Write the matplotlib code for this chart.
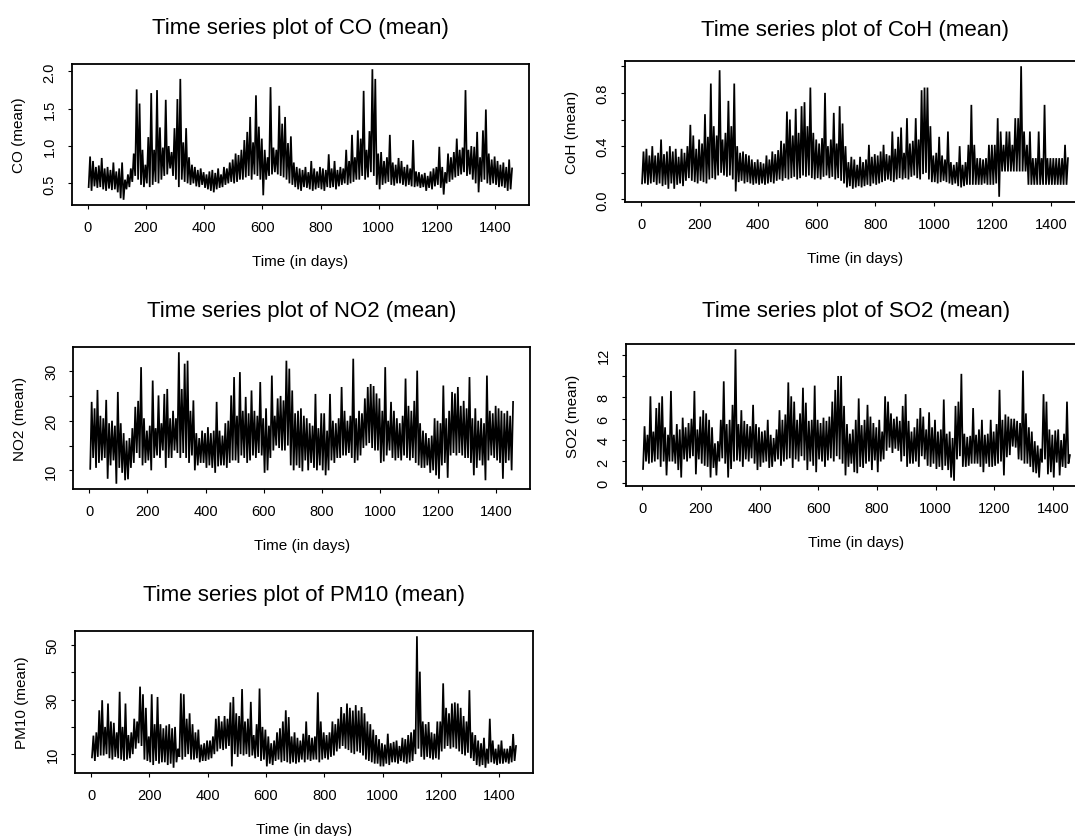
import numpy as np
import matplotlib
matplotlib.use("Agg")
import matplotlib.pyplot as plt

plt.rcParams['font.family'] = ['Liberation Sans', 'DejaVu Sans']

# Each series is given as the low / high envelope of consecutive 10-day windows
BIN_DAYS = 10

co_hi = [0.86, 0.80, 0.72, 0.74, 0.84, 0.70, 0.72, 0.68, 0.78, 0.66,
         0.70, 0.78, 0.55, 0.62, 0.70, 0.90, 1.76, 1.57, 0.95, 0.75,
         1.12, 1.71, 0.95, 1.75, 1.25, 0.98, 1.62, 1.00, 0.92, 1.24,
         1.63, 1.90, 1.05, 1.24, 0.85, 0.75, 0.72, 0.68, 0.70, 0.65,
         0.62, 0.66, 0.68, 0.64, 0.70, 0.62, 0.72, 0.70, 0.78, 0.82,
         0.90, 0.88, 0.95, 1.08, 1.19, 1.39, 1.05, 1.68, 1.26, 1.10,
         0.95, 0.85, 1.79, 0.98, 0.95, 1.54, 1.30, 1.39, 1.04, 1.13,
         0.78, 0.72, 0.70, 0.68, 0.72, 0.65, 0.80, 0.70, 0.66, 0.72,
         0.70, 0.68, 0.89, 0.70, 0.80, 0.68, 0.72, 0.70, 0.95, 0.80,
         1.15, 0.85, 1.21, 1.10, 1.74, 0.95, 1.20, 2.03, 1.90, 0.90,
         0.92, 0.80, 0.85, 1.15, 0.78, 0.75, 0.84, 0.80, 0.72, 0.75,
         0.70, 1.08, 0.66, 0.65, 0.62, 0.64, 0.60, 0.66, 0.70, 0.72,
         0.99, 0.72, 0.65, 0.90, 0.85, 0.92, 1.10, 0.95, 0.98, 1.75,
         0.95, 1.00, 0.99, 1.19, 0.85, 1.21, 1.49, 0.90, 0.82, 0.86,
         0.80, 0.75, 0.78, 0.72, 0.82, 0.70]
co_lo = [0.45, 0.40, 0.46, 0.44, 0.45, 0.42, 0.40, 0.43, 0.41, 0.42,
         0.38, 0.30, 0.28, 0.42, 0.45, 0.52, 0.60, 0.55, 0.48, 0.45,
         0.50, 0.45, 0.48, 0.52, 0.50, 0.55, 0.60, 0.62, 0.70, 0.60,
         0.55, 0.45, 0.55, 0.52, 0.50, 0.48, 0.50, 0.46, 0.45, 0.48,
         0.44, 0.42, 0.40, 0.38, 0.42, 0.44, 0.45, 0.48, 0.50, 0.52,
         0.50, 0.52, 0.55, 0.55, 0.58, 0.60, 0.55, 0.62, 0.60, 0.55,
         0.34, 0.55, 0.60, 0.62, 0.65, 0.62, 0.60, 0.58, 0.55, 0.50,
         0.48, 0.45, 0.42, 0.40, 0.45, 0.44, 0.42, 0.40, 0.42, 0.44,
         0.42, 0.40, 0.45, 0.44, 0.45, 0.42, 0.46, 0.48, 0.50, 0.48,
         0.50, 0.52, 0.55, 0.55, 0.60, 0.55, 0.58, 0.65, 0.60, 0.48,
         0.42, 0.48, 0.50, 0.52, 0.48, 0.47, 0.50, 0.50, 0.48, 0.46,
         0.48, 0.46, 0.45, 0.46, 0.44, 0.45, 0.40, 0.44, 0.42, 0.46,
         0.48, 0.44, 0.35, 0.50, 0.52, 0.55, 0.58, 0.60, 0.62, 0.65,
         0.60, 0.62, 0.55, 0.50, 0.38, 0.52, 0.55, 0.50, 0.48, 0.50,
         0.48, 0.45, 0.46, 0.44, 0.40, 0.42]

coh_hi = [0.36, 0.38, 0.33, 0.40, 0.33, 0.35, 0.45, 0.34, 0.36, 0.40,
          0.36, 0.38, 0.32, 0.38, 0.35, 0.40, 0.56, 0.48, 0.38, 0.45,
          0.42, 0.64, 0.47, 0.87, 0.55, 0.48, 0.97, 0.45, 0.50, 0.74,
          0.55, 0.87, 0.40, 0.35, 0.36, 0.34, 0.33, 0.30, 0.28, 0.30,
          0.28, 0.27, 0.33, 0.30, 0.36, 0.34, 0.37, 0.44, 0.42, 0.66,
          0.60, 0.48, 0.68, 0.50, 0.70, 0.73, 0.55, 0.84, 0.50, 0.45,
          0.42, 0.46, 0.80, 0.40, 0.45, 0.65, 0.42, 0.70, 0.57, 0.40,
          0.28, 0.32, 0.30, 0.26, 0.32, 0.28, 0.30, 0.41, 0.32, 0.34,
          0.33, 0.36, 0.41, 0.34, 0.33, 0.51, 0.38, 0.47, 0.54, 0.35,
          0.61, 0.42, 0.44, 0.61, 0.45, 0.82, 0.84, 0.84, 0.55, 0.33,
          0.35, 0.47, 0.33, 0.30, 0.51, 0.28, 0.26, 0.28, 0.40, 0.26,
          0.28, 0.41, 0.71, 0.41, 0.31, 0.31, 0.30, 0.31, 0.41, 0.41,
          0.41, 0.61, 0.51, 0.41, 0.51, 0.51, 0.41, 0.61, 0.61, 1.00,
          0.51, 0.41, 0.51, 0.31, 0.31, 0.51, 0.31, 0.71, 0.31, 0.31,
          0.31, 0.31, 0.31, 0.31, 0.41, 0.31]
coh_lo = [0.12, 0.12, 0.11, 0.12, 0.13, 0.11, 0.12, 0.10, 0.11, 0.08,
          0.12, 0.08, 0.11, 0.12, 0.10, 0.14, 0.16, 0.14, 0.13, 0.12,
          0.14, 0.13, 0.12, 0.15, 0.16, 0.15, 0.18, 0.20, 0.18, 0.17,
          0.18, 0.15, 0.06, 0.13, 0.14, 0.12, 0.13, 0.12, 0.11, 0.12,
          0.11, 0.12, 0.11, 0.12, 0.13, 0.12, 0.14, 0.15, 0.14, 0.16,
          0.15, 0.16, 0.17, 0.15, 0.16, 0.18, 0.17, 0.18, 0.16, 0.15,
          0.16, 0.15, 0.17, 0.18, 0.16, 0.17, 0.15, 0.16, 0.14, 0.12,
          0.09, 0.10, 0.08, 0.09, 0.10, 0.09, 0.10, 0.11, 0.10, 0.12,
          0.11, 0.12, 0.13, 0.14, 0.15, 0.14, 0.13, 0.15, 0.16, 0.15,
          0.16, 0.15, 0.17, 0.18, 0.16, 0.15, 0.19, 0.20, 0.15, 0.13,
          0.13, 0.12, 0.13, 0.14, 0.13, 0.12, 0.11, 0.12, 0.10, 0.09,
          0.10, 0.11, 0.11, 0.11, 0.11, 0.11, 0.11, 0.12, 0.11, 0.11,
          0.11, 0.12, 0.02, 0.21, 0.21, 0.21, 0.21, 0.21, 0.21, 0.21,
          0.21, 0.21, 0.11, 0.11, 0.11, 0.11, 0.11, 0.11, 0.11, 0.11,
          0.11, 0.11, 0.11, 0.11, 0.11, 0.11]

no2_hi = [23.8, 22.5, 26.2, 21.0, 20.5, 24.2, 19.5, 20.0, 19.0, 25.8,
          19.5, 17.5, 16.0, 16.5, 18.5, 22.8, 24.0, 30.8, 20.5, 18.0,
          19.0, 28.1, 18.5, 25.1, 19.5, 25.4, 26.4, 20.5, 22.0, 20.5,
          33.8, 26.4, 31.5, 32.1, 22.0, 24.1, 17.5, 16.5, 18.0, 17.5,
          18.7, 17.5, 18.0, 23.8, 18.0, 17.0, 19.5, 20.0, 25.1, 28.8,
          21.0, 29.8, 22.0, 24.8, 21.5, 26.1, 22.0, 21.0, 27.8, 20.5,
          22.5, 19.0, 29.1, 21.0, 24.5, 25.0, 24.1, 32.1, 30.5, 26.1,
          21.5, 22.0, 22.5, 21.0, 20.5, 19.5, 19.0, 25.4, 18.5, 21.5,
          21.5, 18.0, 25.4, 20.0, 19.5, 20.5, 26.8, 22.0, 20.0, 21.0,
          32.5, 20.5, 22.0, 21.5, 24.5, 26.8, 27.4, 27.0, 25.5, 24.5,
          22.0, 30.8, 20.0, 23.8, 22.0, 20.5, 19.5, 21.0, 28.5, 23.0,
          22.0, 24.0, 30.1, 19.5, 18.0, 17.5, 16.5, 17.0, 20.5, 20.0,
          19.5, 27.1, 20.5, 22.0, 25.8, 25.5, 26.8, 23.0, 24.0, 22.5,
          28.8, 20.5, 22.5, 20.0, 20.5, 19.5, 29.1, 22.0, 21.5, 23.0,
          22.5, 22.0, 21.5, 22.0, 21.0, 23.8]
no2_lo = [10.3, 12.5, 10.5, 11.5, 12.0, 12.5, 8.3, 11.0, 12.0, 7.3,
          10.5, 9.5, 8.0, 8.2, 10.5, 11.5, 13.5, 12.5, 11.0, 11.5,
          12.0, 10.0, 12.5, 13.0, 12.5, 14.0, 10.5, 12.5, 12.5, 14.0,
          13.5, 12.5, 13.5, 12.5, 11.5, 13.0, 10.0, 11.0, 11.5, 11.5,
          10.5, 11.0, 10.5, 9.5, 10.8, 11.0, 11.0, 10.5, 11.5, 12.0,
          12.0, 11.5, 13.0, 12.5, 11.5, 12.0, 13.0, 12.5, 13.5, 13.0,
          9.5, 10.0, 12.5, 14.0, 15.0, 14.5, 14.0, 14.0, 15.0, 11.0,
          10.0, 11.0, 10.5, 9.8, 12.0, 10.0, 11.5, 10.5, 10.0, 11.0,
          10.0, 9.0, 10.0, 12.0, 11.5, 12.5, 12.5, 13.0, 13.0, 13.5,
          12.5, 11.5, 12.0, 13.0, 14.5, 15.0, 15.5, 14.5, 14.0, 14.0,
          11.5, 11.8, 13.0, 14.0, 12.5, 12.0, 12.5, 12.0, 13.0, 12.5,
          12.0, 12.5, 11.5, 11.0, 10.5, 10.5, 11.0, 9.5, 10.0, 9.0,
          8.3, 11.0, 11.5, 8.5, 13.0, 13.5, 13.0, 13.5, 13.0, 12.5,
          12.5, 11.5, 9.0, 10.5, 12.0, 11.0, 8.0, 12.0, 13.0, 12.5,
          12.0, 11.5, 8.3, 11.5, 12.0, 10.0]

so2_hi = [5.3, 4.5, 8.1, 4.8, 7.0, 7.5, 8.1, 5.2, 4.5, 8.6,
          4.5, 5.5, 5.0, 6.1, 5.2, 5.6, 6.0, 8.6, 5.0, 6.2,
          6.8, 6.5, 5.9, 5.2, 3.7, 3.9, 5.9, 9.5, 5.5, 5.9,
          7.3, 12.5, 5.5, 6.8, 5.8, 5.5, 5.3, 7.3, 5.5, 5.2,
          4.8, 4.9, 5.9, 4.5, 4.2, 5.0, 6.8, 5.9, 6.4, 9.4,
          8.1, 7.6, 5.9, 6.5, 8.9, 7.5, 5.8, 5.9, 9.1, 5.9,
          5.6, 6.1, 5.8, 6.2, 7.6, 8.7, 10.0, 10.0, 7.2, 5.5,
          4.6, 5.0, 5.9, 7.9, 5.4, 5.9, 7.3, 6.2, 5.6, 5.2,
          5.9, 4.8, 8.1, 7.6, 6.5, 6.0, 6.2, 5.8, 7.2, 8.3,
          5.8, 4.8, 5.2, 6.0, 7.0, 6.2, 5.0, 6.6, 5.2, 5.9,
          4.8, 5.0, 7.8, 4.6, 4.8, 4.2, 7.2, 7.6, 10.2, 4.6,
          4.3, 4.4, 7.0, 4.5, 5.0, 5.9, 4.5, 4.6, 5.9, 4.8,
          5.5, 8.7, 5.9, 6.4, 6.2, 6.0, 6.0, 5.8, 5.6, 10.5,
          6.5, 5.2, 4.8, 3.9, 3.5, 3.2, 8.3, 7.6, 5.0, 4.5,
          4.9, 5.0, 4.0, 4.6, 7.6, 2.6]
so2_lo = [1.3, 2.0, 1.8, 1.9, 2.0, 2.2, 1.5, 2.0, 0.7, 2.0,
          2.0, 1.8, 1.2, 0.5, 2.2, 2.0, 2.3, 2.5, 0.8, 2.2,
          1.8, 1.6, 1.5, 0.5, 1.4, 0.7, 2.0, 2.3, 1.8, 0.5,
          1.3, 2.0, 2.1, 2.0, 1.5, 2.2, 2.0, 2.3, 1.8, 1.2,
          1.5, 1.9, 2.0, 1.4, 1.5, 2.0, 2.2, 1.6, 2.0, 2.2,
          2.3, 1.4, 2.2, 2.0, 2.5, 2.1, 1.2, 2.0, 1.6, 1.0,
          2.2, 2.0, 1.5, 2.1, 2.3, 2.0, 2.5, 2.2, 1.8, 0.7,
          1.5, 1.8, 1.0, 0.9, 1.5, 1.4, 1.8, 2.0, 1.2, 2.1,
          1.0, 2.0, 2.2, 3.0, 3.3, 2.8, 3.2, 3.0, 2.0, 2.5,
          1.5, 1.8, 1.8, 2.0, 1.5, 2.5, 2.2, 1.6, 1.5, 1.8,
          1.3, 1.5, 1.2, 1.6, 1.2, 0.5, 0.2, 2.2, 2.5, 1.5,
          1.5, 1.6, 1.8, 1.8, 1.8, 1.5, 1.0, 1.8, 1.5, 1.5,
          1.6, 1.8, 2.0, 0.7, 2.4, 2.6, 3.4, 3.3, 2.2, 2.1,
          1.8, 1.8, 1.5, 1.0, 0.9, 0.5, 1.9, 2.2, 0.8, 1.0,
          0.5, 1.9, 0.7, 1.5, 1.4, 1.8]

pm10_hi = [16.8, 18.0, 26.1, 29.8, 20.0, 28.6, 22.0, 21.5, 18.0, 32.9,
           20.0, 28.6, 17.0, 18.0, 23.0, 22.0, 34.8, 32.0, 27.0, 16.5,
           32.0, 21.0, 31.0, 21.0, 19.5, 20.5, 21.0, 19.5, 20.0, 12.0,
           32.3, 32.0, 23.0, 25.0, 21.0, 18.0, 19.0, 13.5, 14.0, 15.0,
           15.0, 16.5, 23.0, 24.0, 22.0, 24.0, 23.0, 29.0, 31.0, 25.0,
           24.0, 33.9, 22.0, 23.0, 29.2, 17.0, 21.0, 34.1, 20.0, 19.0,
           16.5, 14.0, 15.0, 18.0, 19.5, 22.0, 26.1, 23.6, 16.5, 18.0,
           16.0, 15.0, 17.5, 22.0, 17.0, 16.0, 16.5, 32.7, 22.0, 18.0,
           17.0, 18.0, 22.0, 21.0, 23.0, 27.3, 25.0, 28.6, 27.0, 26.0,
           28.0, 26.0, 27.3, 25.0, 22.0, 21.0, 19.0, 17.0, 15.5, 14.0,
           13.5, 17.5, 14.0, 14.5, 15.0, 13.0, 16.0, 15.5, 17.0, 18.0,
           19.0, 53.3, 40.3, 22.0, 21.0, 21.8, 18.0, 17.5, 22.0, 22.0,
           36.0, 27.0, 25.0, 28.6, 29.0, 28.6, 27.0, 24.0, 22.0, 33.5,
           18.0, 17.0, 15.0, 14.0, 16.0, 12.0, 23.0, 15.0, 12.0, 13.5,
           15.0, 12.0, 12.0, 13.0, 17.4, 13.0]
pm10_lo = [8.8, 7.5, 9.0, 9.5, 9.5, 10.0, 8.5, 8.0, 9.0, 8.5,
           8.0, 7.5, 8.0, 8.5, 10.0, 12.0, 14.0, 13.0, 8.0, 7.5,
           7.0, 6.0, 7.5, 6.5, 7.0, 7.0, 6.0, 6.5, 5.0, 7.0,
           9.0, 8.0, 9.0, 10.0, 8.0, 8.0, 8.5, 7.0, 7.5, 7.5,
           8.0, 8.5, 10.0, 11.0, 12.0, 11.5, 12.0, 13.0, 5.5, 10.0,
           9.0, 10.0, 9.5, 10.0, 9.0, 9.5, 8.5, 9.0, 7.5, 8.0,
           5.5, 6.5, 6.0, 7.5, 8.0, 7.0, 7.5, 7.0, 6.5, 7.0,
           6.5, 7.0, 8.0, 7.0, 8.0, 7.5, 8.0, 8.0, 7.0, 8.0,
           8.5, 8.0, 9.0, 9.5, 11.0, 12.0, 13.0, 12.0, 11.5, 10.5,
           10.0, 11.0, 10.5, 9.5, 8.0, 7.5, 7.0, 6.5, 6.5, 5.5,
           5.5, 6.5, 6.0, 7.0, 7.0, 6.5, 7.5, 7.0, 6.5, 7.0,
           7.5, 10.0, 12.0, 9.0, 8.0, 9.0, 8.5, 8.0, 8.5, 8.0,
           11.0, 12.0, 13.0, 12.0, 12.5, 12.0, 11.0, 10.0, 9.5, 10.5,
           8.5, 7.5, 6.0, 5.5, 6.0, 5.0, 6.5, 7.0, 6.5, 6.0,
           6.5, 6.5, 7.0, 6.5, 7.0, 7.5]

x_ticks = [0, 200, 400, 600, 800, 1000, 1200, 1400]

co_yticks = [0.5, 1.0, 1.5, 2.0]
co_ylabels = ["0.5", "1.0", "1.5", "2.0"]
coh_yticks = [0.0, 0.2, 0.4, 0.6, 0.8, 1.0]
coh_ylabels = ["0.0", "", "0.4", "", "0.8", ""]
no2_yticks = [10, 15, 20, 25, 30]
no2_ylabels = ["10", "", "20", "", "30"]
so2_yticks = [0, 2, 4, 6, 8, 10, 12]
so2_ylabels = ["0", "2", "4", "6", "8", "", "12"]
pm10_yticks = [10, 20, 30, 40, 50]
pm10_ylabels = ["10", "", "30", "", "50"]

W, H = 1075, 837
fig = plt.figure(figsize=(W / 100, H / 100), dpi=100)


def px_axes(L, R, T, B):
    return fig.add_axes([L / W, 1 - B / H, (R - L) / W, (B - T) / H])


panels = [
    ("CO", co_lo, co_hi, (71.7, 529, 65, 206), co_yticks, co_ylabels, 22),
    ("CoH", coh_lo, coh_hi, (625, 1085, 62, 203), coh_yticks, coh_ylabels, 19),
    ("NO2", no2_lo, no2_hi, (73.3, 530, 348, 490), no2_yticks, no2_ylabels, 22),
    ("SO2", so2_lo, so2_hi, (626, 1087, 345, 487), so2_yticks, so2_ylabels, 20),
    ("PM10", pm10_lo, pm10_hi, (75, 533, 632, 774), pm10_yticks, pm10_ylabels, 22),
]

for name, lo, hi, box, yt, ytl, tpad in panels:
    ax = px_axes(*box)
    n = len(lo)
    start = np.arange(n) * BIN_DAYS + 1
    x = np.empty(2 * n)
    y = np.empty(2 * n)
    x[0::2] = start + 2
    x[1::2] = start + 7
    y[0::2] = lo
    y[1::2] = hi
    ax.plot(x, y, color="black", lw=1.25, solid_joinstyle="miter")
    xr = x.max() - x.min()
    ax.set_xlim(x.min() - 0.04 * xr, x.max() + 0.04 * xr)
    yr = y.max() - y.min()
    ax.set_ylim(y.min() - 0.04 * yr, y.max() + 0.04 * yr)
    ax.set_xticks(x_ticks)
    ax.set_xticklabels([str(t) for t in x_ticks], fontsize=10.5)
    ax.set_yticks(yt)
    ax.set_yticklabels(ytl, rotation=90, va="center", fontsize=10.5)
    ax.tick_params(direction="out", length=3, width=0.8, pad=8)
    for s in ax.spines.values():
        s.set_linewidth(1.3)
    ax.set_title(f"Time series plot of {name} (mean)", fontsize=16, pad=tpad)
    ax.set_xlabel("Time (in days)", fontsize=11, labelpad=14)
    ax.set_ylabel(f"{name} (mean)", fontsize=11, labelpad=12)

fig.savefig("out.png", dpi=100)
